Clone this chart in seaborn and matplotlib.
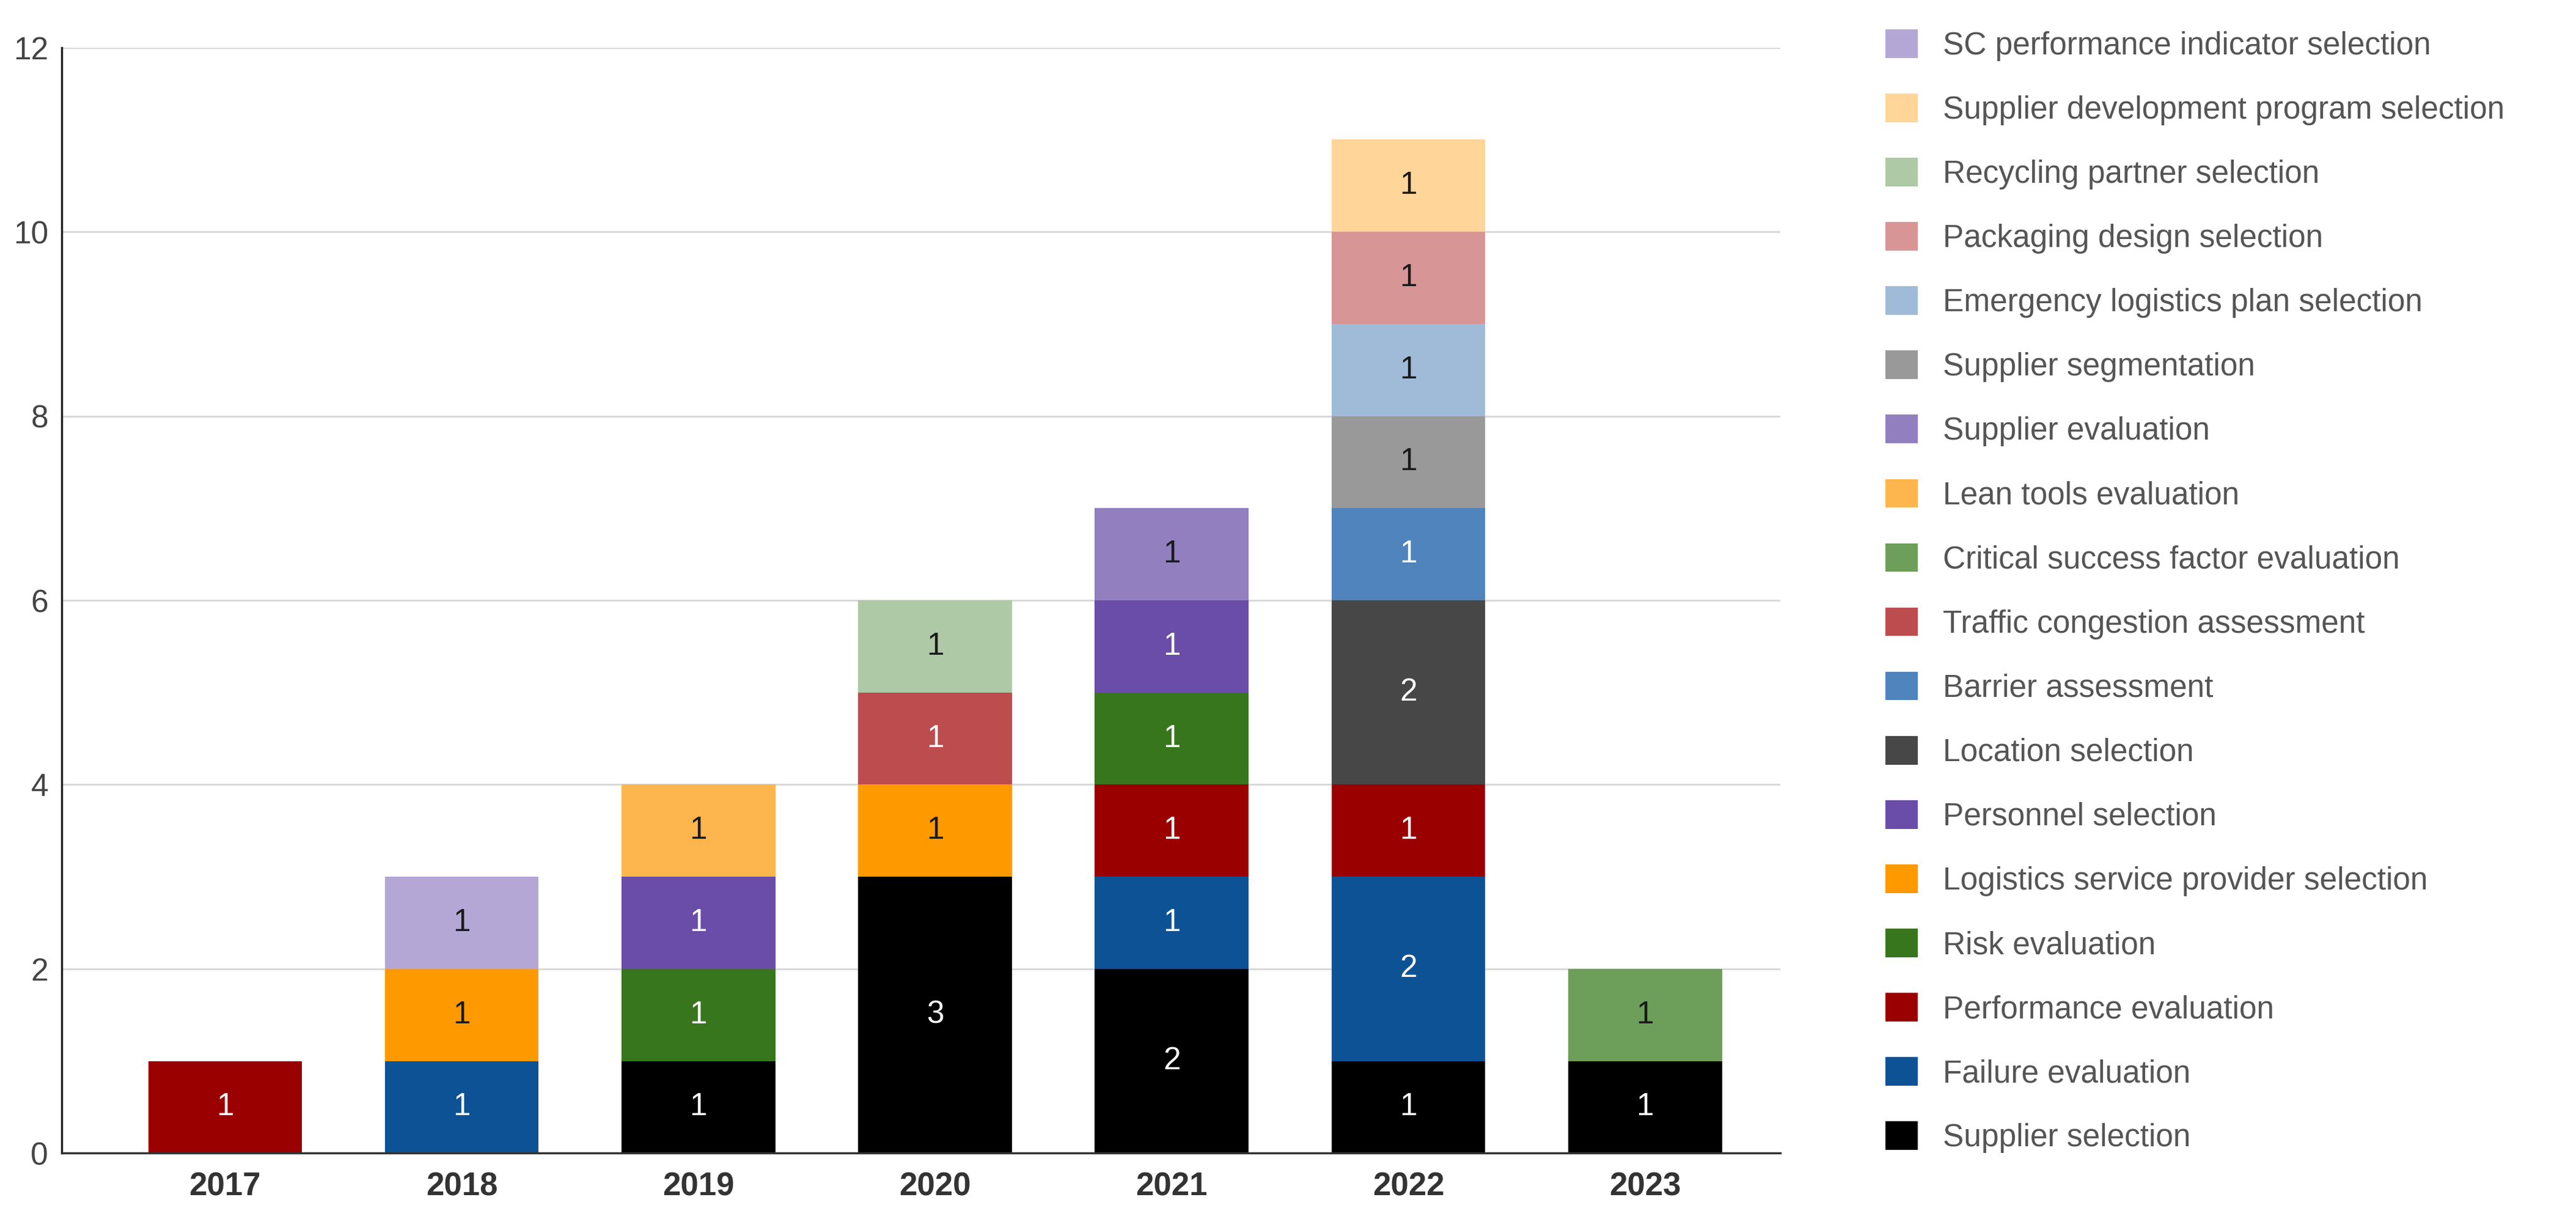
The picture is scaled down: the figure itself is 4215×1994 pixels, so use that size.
import numpy as np
import pandas as pd
import seaborn as sns
import matplotlib.pyplot as plt
from matplotlib.colors import to_rgb

years = [2017, 2018, 2019, 2020, 2021, 2022, 2023]

# legend order top to bottom; the last one sits at the bottom of each stack
categories = [
    "SC performance indicator selection",
    "Supplier development program selection",
    "Recycling partner selection",
    "Packaging design selection",
    "Emergency logistics plan selection",
    "Supplier segmentation",
    "Supplier evaluation",
    "Lean tools evaluation",
    "Critical success factor evaluation",
    "Traffic congestion assessment",
    "Barrier assessment",
    "Location selection",
    "Personnel selection",
    "Logistics service provider selection",
    "Risk evaluation",
    "Performance evaluation",
    "Failure evaluation",
    "Supplier selection",
]

colors = [
    "#b4a7d6", "#ffd599", "#aec9a5", "#d89596", "#9fbbd8", "#999999",
    "#917fc0", "#fdb54e", "#6d9e5a", "#bd4c4e", "#4f84bc", "#474747",
    "#6a4da8", "#ff9900", "#38761d", "#9b0000", "#0d5295", "#000000",
]

# counts per year (2017..2023), same order as categories
sc_performance_indicator = [0, 1, 0, 0, 0, 0, 0]
supplier_development = [0, 0, 0, 0, 0, 1, 0]
recycling_partner = [0, 0, 0, 1, 0, 0, 0]
packaging_design = [0, 0, 0, 0, 0, 1, 0]
emergency_logistics = [0, 0, 0, 0, 0, 1, 0]
supplier_segmentation = [0, 0, 0, 0, 0, 1, 0]
supplier_evaluation = [0, 0, 0, 0, 1, 0, 0]
lean_tools = [0, 0, 1, 0, 0, 0, 0]
critical_success_factor = [0, 0, 0, 0, 0, 0, 1]
traffic_congestion = [0, 0, 0, 1, 0, 0, 0]
barrier_assessment = [0, 0, 0, 0, 0, 1, 0]
location_selection = [0, 0, 0, 0, 0, 2, 0]
personnel_selection = [0, 0, 1, 0, 1, 0, 0]
logistics_provider = [0, 1, 0, 1, 0, 0, 0]
risk_evaluation = [0, 0, 1, 0, 1, 0, 0]
performance_evaluation = [1, 0, 0, 0, 1, 1, 0]
failure_evaluation = [0, 1, 0, 0, 1, 2, 0]
supplier_selection = [0, 0, 1, 3, 2, 1, 1]

counts = [
    sc_performance_indicator, supplier_development, recycling_partner,
    packaging_design, emergency_logistics, supplier_segmentation,
    supplier_evaluation, lean_tools, critical_success_factor,
    traffic_congestion, barrier_assessment, location_selection,
    personnel_selection, logistics_provider, risk_evaluation,
    performance_evaluation, failure_evaluation, supplier_selection,
]

rows = []
for cat, vals in zip(categories, counts):
    for yr, v in zip(years, vals):
        if v > 0:
            rows.append({"year": yr, "category": cat, "count": v})
df = pd.DataFrame(rows)

sns.set_style("white")
plt.rcParams["font.family"] = ["Liberation Sans", "DejaVu Sans"]

fig, ax = plt.subplots(figsize=(42.15, 19.94), dpi=100)
fig.subplots_adjust(left=0.024, right=0.691, bottom=0.054, top=0.961)

sns.histplot(data=df, x="year", hue="category", weights="count",
             hue_order=categories, palette=dict(zip(categories, colors)),
             multiple="stack", discrete=True, shrink=0.65, alpha=1,
             edgecolor="none", linewidth=0, ax=ax)

# value labels in the middle of every segment
for p in ax.patches:
    h = p.get_height()
    if h < 0.5:
        continue
    r, g, b = to_rgb(p.get_facecolor())
    lum = 0.2126 * r + 0.7152 * g + 0.0722 * b
    txt_col = "#1a1a1a" if lum > 0.5 else "white"
    ax.text(p.get_x() + p.get_width() / 2, p.get_y() + h / 2, f"{int(round(h))}",
            ha="center", va="center", fontsize=37, color=txt_col)

ax.set_xlim(years[0] - 0.69, years[-1] + 0.57)
ax.set_ylim(0, 12)
ax.set_yticks(np.arange(0, 13, 2))
ax.set_xticks(years)
ax.set_xticklabels([str(y) for y in years], fontweight="bold", color="#333333")
ax.set_xlabel("")
ax.set_ylabel("")
ax.tick_params(axis="y", length=0, labelsize=37, labelcolor="#444444", pad=16)
ax.tick_params(axis="x", length=0, labelsize=38, pad=22)

ax.set_axisbelow(True)
ax.yaxis.grid(True, color="#d9d9d9", linewidth=2.2)
sns.despine(ax=ax, top=True, right=True)
ax.spines["left"].set_color("#222222")
ax.spines["left"].set_linewidth(2.5)
ax.spines["bottom"].set_color("#333333")
ax.spines["bottom"].set_linewidth(2.5)

sns.move_legend(ax, "upper left", bbox_to_anchor=(0.732, 0.976),
                bbox_transform=fig.transFigure, frameon=False, title=None,
                fontsize=37, labelcolor="#555555", handlelength=1.02,
                handleheight=1.02, handletextpad=0.8, labelspacing=1.035,
                borderpad=0, borderaxespad=0)

fig.savefig("out.png", dpi=100, facecolor="white")
